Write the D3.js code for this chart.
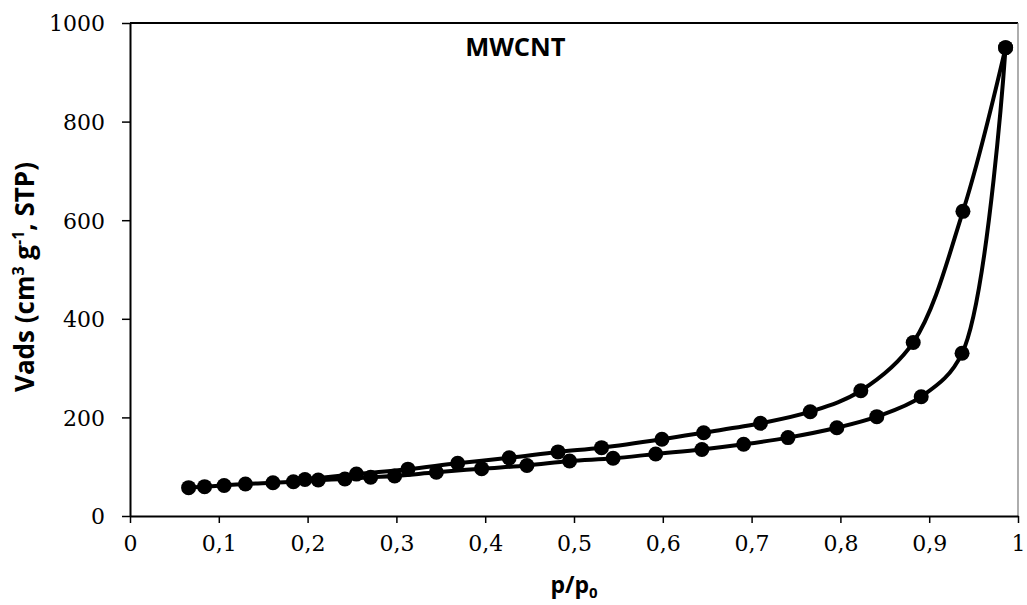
<!DOCTYPE html>
<html>
<head>
<meta charset="utf-8">
<script src="https://cdn.jsdelivr.net/npm/d3@7"></script>
<style>
  html, body { margin: 0; padding: 0; background: #fff; }
  svg { display: block; }
</style>
</head>
<body>
<svg id="chart" width="1027" height="605"></svg>
<script>
// N2 isotherm of MWCNT: relative pressure p/p0 and adsorbed volume (cm3 g-1, STP)
const adsorptionP = [0.066, 0.084, 0.106, 0.130, 0.161, 0.184, 0.212, 0.242, 0.271, 0.298,
                     0.345, 0.396, 0.447, 0.495, 0.544, 0.592, 0.644, 0.691, 0.741, 0.796,
                     0.841, 0.891, 0.937, 0.986];
const adsorptionV = [57.5, 59.5, 62, 65, 67.5, 69.6, 73, 75, 78.5, 81,
                     88.6, 96, 102.5, 111.5, 117, 125.8, 135, 145.4, 159, 179,
                     201.5, 242, 330, 950];
const desorptionP = [0.986, 0.938, 0.882, 0.823, 0.766, 0.710, 0.646, 0.599, 0.531, 0.482,
                     0.427, 0.369, 0.313, 0.255, 0.197];
const desorptionV = [950, 618, 352, 254, 211.6, 188, 169, 155.6, 138.6, 130,
                     118, 107, 95, 85, 74];

const xTicks = [0, 0.1, 0.2, 0.3, 0.4, 0.5, 0.6, 0.7, 0.8, 0.9, 1];
const xTickLabels = ["0", "0,1", "0,2", "0,3", "0,4", "0,5", "0,6", "0,7", "0,8", "0,9", "1"];
const yTicks = [0, 200, 400, 600, 800, 1000];
const yTickLabels = ["0", "200", "400", "600", "800", "1000"];

(function () {
  const svg = d3.select("#chart");
  const plotLeft = 130, plotRight = 1018, plotTop = 23, plotBottom = 516;

  const x = d3.scaleLinear().domain([0, 1]).range([plotLeft, plotRight]);
  const y = d3.scaleLinear().domain([0, 1000]).range([plotBottom, plotTop]);

  const serif = "'DejaVu Serif', serif";
  const sans = "'Open Sans', sans-serif";

  // plot frame: top and right edges
  svg.append("line").attr("x1", plotLeft).attr("x2", plotRight).attr("y1", plotTop).attr("y2", plotTop)
    .attr("stroke", "#000").attr("stroke-width", 2);
  svg.append("line").attr("x1", plotRight).attr("x2", plotRight).attr("y1", plotTop).attr("y2", plotBottom)
    .attr("stroke", "#777").attr("stroke-width", 1.2);

  // axes
  const xAxis = svg.append("g").attr("transform", `translate(0,${plotBottom})`)
    .call(d3.axisBottom(x).tickValues(xTicks).tickFormat((d, i) => xTickLabels[i])
      .tickSize(7).tickSizeOuter(0).tickPadding(12));
  const yAxis = svg.append("g").attr("transform", `translate(${plotLeft},0)`)
    .call(d3.axisLeft(y).tickValues(yTicks).tickFormat((d, i) => yTickLabels[i])
      .tickSize(8).tickSizeOuter(0).tickPadding(17));

  [xAxis, yAxis].forEach(g => {
    g.select(".domain").attr("stroke", "#000").attr("stroke-width", 2);
    g.selectAll(".tick line").attr("stroke", "#000").attr("stroke-width", 1.5);
    g.selectAll(".tick text").attr("font-family", serif).attr("font-size", 22).attr("fill", "#000");
  });
  yAxis.selectAll(".tick text").attr("dy", "0.36em");

  // isotherm branches
  const line = d3.line()
    .x(d => x(d[0])).y(d => y(d[1]))
    .curve(d3.curveCatmullRom.alpha(0.5));

  const ads = adsorptionP.map((p, i) => [p, adsorptionV[i]]);
  const des = desorptionP.map((p, i) => [p, desorptionV[i]]);

  [ads, des].forEach(data => {
    svg.append("path").datum(data).attr("d", line)
      .attr("fill", "none").attr("stroke", "#000").attr("stroke-width", 4)
      .attr("stroke-linejoin", "round");
  });

  svg.append("g").selectAll("circle").data(ads.concat(des)).join("circle")
    .attr("cx", d => x(d[0])).attr("cy", d => y(d[1])).attr("r", 7.5).attr("fill", "#000");

  // titles
  svg.append("text").attr("x", x(0.434)).attr("y", 56).attr("text-anchor", "middle")
    .attr("font-family", sans).attr("font-weight", "bold").attr("font-size", 25.5)
    .text("MWCNT");

  const xt = svg.append("text").attr("x", x(0.5)).attr("y", 593).attr("text-anchor", "middle")
    .attr("font-family", sans).attr("font-weight", "bold").attr("font-size", 23);
  xt.append("tspan").text("p/p");
  xt.append("tspan").attr("font-size", 15).attr("dy", 5).text("0");

  const yt = svg.append("text").attr("transform", "translate(34,277) rotate(-90)")
    .attr("text-anchor", "middle")
    .attr("font-family", sans).attr("font-weight", "bold").attr("font-size", 26);
  yt.append("tspan").text("Vads (cm");
  yt.append("tspan").attr("font-size", 16).attr("dy", -10).text("3");
  yt.append("tspan").attr("dy", 10).text(" g");
  yt.append("tspan").attr("font-size", 16).attr("dy", -10).text("-1");
  yt.append("tspan").attr("dy", 10).text(", STP)");
})();
</script>
</body>
</html>
